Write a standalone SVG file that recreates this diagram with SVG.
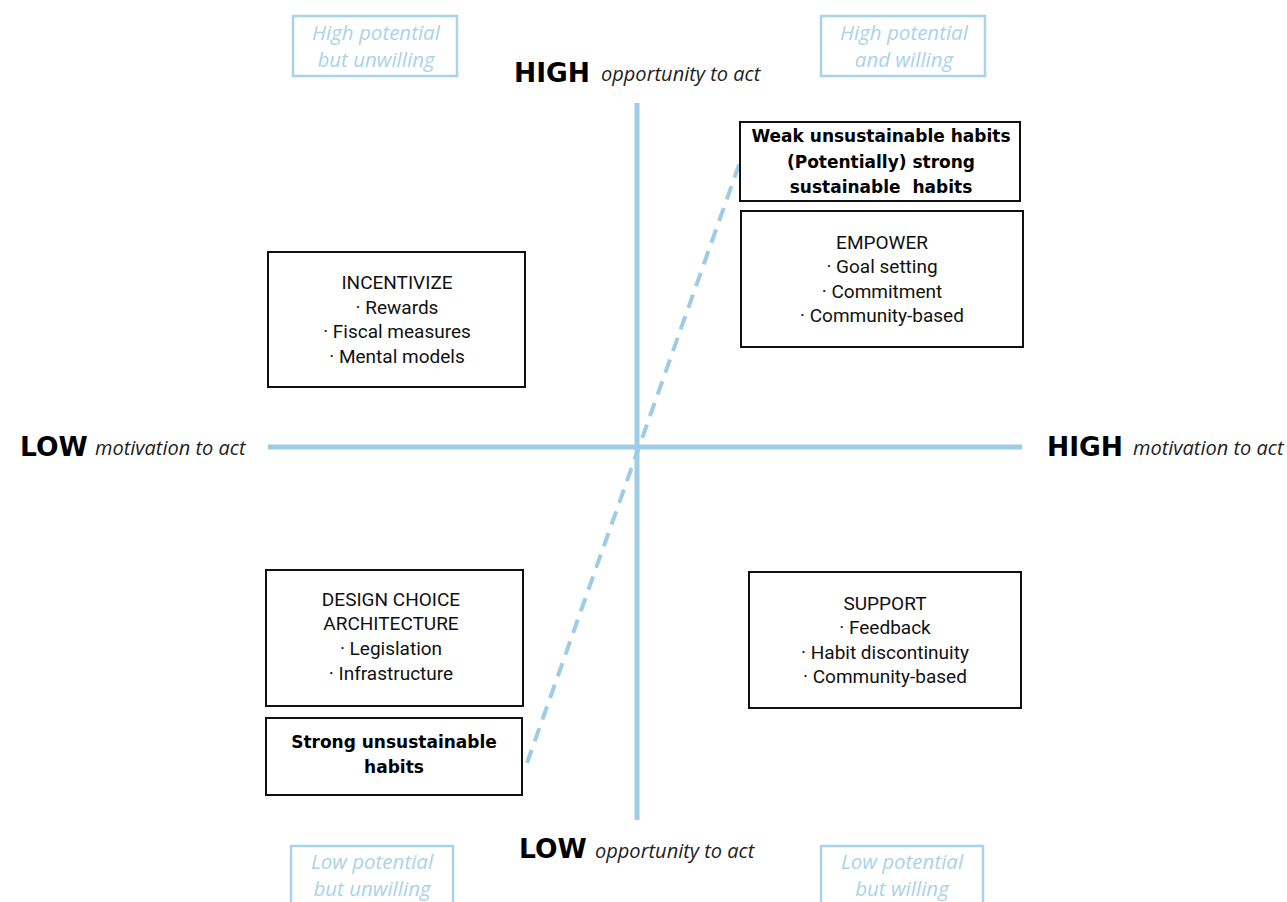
<svg xmlns="http://www.w3.org/2000/svg" width="1287" height="902" viewBox="0 0 1287 902">
<style>
.axis{stroke:#9ecbe5;stroke-width:5;fill:none}
.dash{stroke:#9ecbe5;stroke-width:4;stroke-dasharray:14 9;fill:none}
.box{fill:#fff;stroke:#111;stroke-width:2}
.lbox{fill:none;stroke:#a9d3ea;stroke-width:2.5}
.lt{font-family:"Open Sans","Liberation Sans",sans-serif;font-style:italic;font-size:20.5px;fill:#a9d3ea;text-anchor:middle}
.big{font-family:"DejaVu Sans",sans-serif;font-weight:bold;font-size:26.5px;fill:#000}
.sub{font-family:"Open Sans","Liberation Sans",sans-serif;font-style:italic;font-size:20px;fill:#222}
.bt{font-family:Roboto,"Liberation Sans",sans-serif;font-size:19px;fill:#111;text-anchor:middle}
.bb{font-family:"DejaVu Sans",sans-serif;font-weight:bold;font-size:17px;fill:#000;text-anchor:middle}
</style>
<rect width="1287" height="902" fill="#fff"/>
<g id="connectors">
<line class="axis" x1="637" y1="103" x2="637" y2="820"/>
<line class="axis" x1="268" y1="447" x2="1022" y2="447"/>
<line class="dash" x1="527" y1="763" x2="740" y2="162"/>
</g>
<g id="label-high-unwilling">
<rect class="lbox" x="293" y="16" width="164" height="60"/>
<text class="lt" x="376" y="40">High potential</text>
<text class="lt" x="376" y="67">but unwilling</text>
</g>
<g id="label-high-willing">
<rect class="lbox" x="821" y="16" width="164" height="60"/>
<text class="lt" x="904" y="40">High potential</text>
<text class="lt" x="904" y="67">and willing</text>
</g>
<g id="label-low-unwilling">
<rect class="lbox" x="291" y="846" width="162" height="70"/>
<text class="lt" x="372" y="869">Low potential</text>
<text class="lt" x="372" y="896">but unwilling</text>
</g>
<g id="label-low-willing">
<rect class="lbox" x="821" y="846" width="162" height="70"/>
<text class="lt" x="902" y="869">Low potential</text>
<text class="lt" x="902" y="896">but willing</text>
</g>
<g id="axis-top">
<text class="big" x="514" y="82">HIGH</text>
<text class="sub" x="601" y="81">opportunity to act</text>
</g>
<g id="axis-bottom">
<text class="big" x="519" y="858">LOW</text>
<text class="sub" x="595" y="858">opportunity to act</text>
</g>
<g id="axis-left">
<text class="big" x="20" y="456">LOW</text>
<text class="sub" x="95" y="455">motivation to act</text>
</g>
<g id="axis-right">
<text class="big" x="1047" y="456">HIGH</text>
<text class="sub" x="1133" y="455">motivation to act</text>
</g>
<g id="weak">
<rect class="box" x="740" y="122" width="280" height="79"/>
<text class="bb" x="881" y="142">Weak unsustainable habits</text>
<text class="bb" x="881" y="168">(Potentially) strong</text>
<text class="bb" x="881" y="193" xml:space="preserve">sustainable  habits</text>
</g>
<g id="empower">
<rect class="box" x="741" y="211" width="282" height="136"/>
<text class="bt" x="882" y="249">EMPOWER</text>
<text class="bt" x="882" y="273">· Goal setting</text>
<text class="bt" x="882" y="298">· Commitment</text>
<text class="bt" x="882" y="322">· Community-based</text>
</g>
<g id="incentivize">
<rect class="box" x="268" y="252" width="257" height="135"/>
<text class="bt" x="397" y="289">INCENTIVIZE</text>
<text class="bt" x="397" y="314">· Rewards</text>
<text class="bt" x="397" y="338">· Fiscal measures</text>
<text class="bt" x="397" y="363">· Mental models</text>
</g>
<g id="design">
<rect class="box" x="266" y="570" width="257" height="136"/>
<text class="bt" x="391" y="606">DESIGN CHOICE</text>
<text class="bt" x="391" y="630">ARCHITECTURE</text>
<text class="bt" x="391" y="655">· Legislation</text>
<text class="bt" x="391" y="680">· Infrastructure</text>
</g>
<g id="strong">
<rect class="box" x="266" y="718" width="256" height="77"/>
<text class="bb" x="394" y="748">Strong unsustainable</text>
<text class="bb" x="394" y="773">habits</text>
</g>
<g id="support">
<rect class="box" x="749" y="572" width="272" height="136"/>
<text class="bt" x="885" y="610">SUPPORT</text>
<text class="bt" x="885" y="634">· Feedback</text>
<text class="bt" x="885" y="659">· Habit discontinuity</text>
<text class="bt" x="885" y="683">· Community-based</text>
</g>
</svg>
